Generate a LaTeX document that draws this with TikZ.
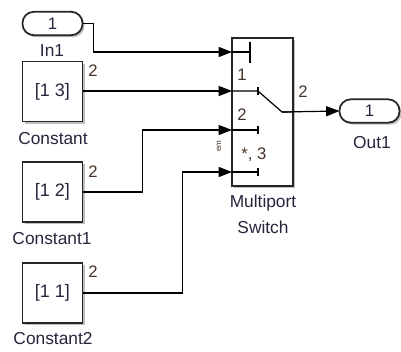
\documentclass[tikz,border=0pt]{standalone}
\usepackage{fontspec}
\setmainfont{Liberation Sans}
\usetikzlibrary{arrows.meta,shadows,calc}
\definecolor{txt}{RGB}{40,36,60}
\definecolor{lbl}{RGB}{70,50,40}
\begin{document}
\begin{tikzpicture}[x=0.75pt,y=-0.75pt,
  every node/.style={inner sep=0pt,outer sep=0pt,text=txt},
  blk/.style={draw=black!85,line width=1.3pt,fill=white,
    drop shadow={shadow xshift=1.5pt,shadow yshift=-1.5pt,opacity=0.25,fill=black}},
  pill/.style={blk,rounded corners=8.4pt,minimum width=45pt,minimum height=17.5pt,font=\fontsize{12.5}{14}\selectfont},
  cbox/.style={blk,minimum width=45pt,minimum height=45pt,font=\fontsize{13.5}{15}\selectfont},
  blkname/.style={font=\fontsize{13}{15}\selectfont},
  plab/.style={font=\fontsize{12.5}{14}\selectfont,text=lbl},
  wire/.style={line width=0.9pt,draw=black},
  sig/.style={wire,-{Triangle[length=10pt,width=7.5pt]}},
  swline/.style={line width=0.9pt,draw=black},
  swtick/.style={line width=1.6pt,draw=black}
]
\useasboundingbox (0,0) rectangle (401,351);

% source blocks
\node[pill] (in1) at (52.5,23.5) {1};
\node[blkname] (in1l) at (52,51) {In1};
\node[cbox] (c0) at (52.5,91.5) {[1 3]};
\node[blkname] (c0l) at (53,139) {Constant};
\node[plab] (c0p) at (93,71) {2};
\node[cbox] (c1) at (52.5,192) {[1 2]};
\node[blkname] (c1l) at (52,239) {Constant1};
\node[plab] (c1p) at (93,172) {2};
\node[cbox] (c2) at (52.5,293) {[1 1]};
\node[blkname] (c2l) at (53,339) {Constant2};
\node[plab] (c2p) at (93,272) {2};

% multiport switch
\node[blk,minimum width=45.75pt,minimum height=111pt] (sw) at (262.5,112) {};
\node[blkname] (swl1) at (263,203.5) {Multiport};
\node[blkname] (swl2) at (263,227.5) {Switch};
\coordinate (p1) at (232,52);
\coordinate (p2) at (232,91);
\coordinate (p3) at (232,130);
\coordinate (p4) at (232,172);
\coordinate (po) at (282,112);

% switch internals
\draw[swline] (p1) -- (250,52);
\draw[swtick] (250,42) -- (250,63);
\draw[swline] (p2) -- (258,91) -- (po) -- (293,112);
\draw[swtick] (258,87) -- (258,95);
\draw[swline] (p3) -- (258,130);
\draw[swtick] (258,126) -- (258,134);
\draw[swline] (p4) -- (258,172);
\draw[swtick] (258,168) -- (258,176);
\node[plab] (s1) at (242,75) {1};
\node[plab] (s2) at (242,115) {2};
\node[plab] (s3) at (254,155) {*, 3};
\node[plab,font=\fontsize{6}{7}\selectfont,rotate=90] (s0) at (219,146) {em};
\node[plab] (so) at (303,92) {2};

% output
\node[pill] (out1) at (369.5,111) {1};
\node[blkname] (out1l) at (372,143) {Out1};

% connectors
\draw[sig] (in1.east) -- ++(11,0) |- (p1);
\draw[sig] (c0.east |- p2) -- (p2);
\draw[sig] (c1.east) -- ++(60,0) |- (p3);
\draw[sig] (c2.east) -- ++(100,0) |- (p4);
\draw[sig] (po) -- (out1.west);
\end{tikzpicture}
\end{document}
